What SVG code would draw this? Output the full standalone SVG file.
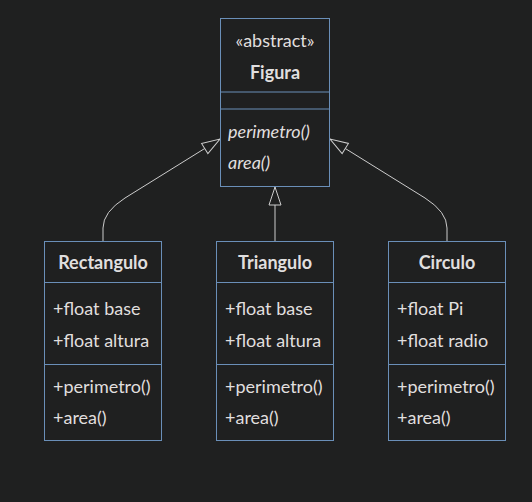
<svg xmlns="http://www.w3.org/2000/svg" width="532" height="502" viewBox="0 0 532 502">
<style>
.bg{fill:#1f2020}
.box{fill:#1f2020;stroke:#6a8fb8;stroke-width:1}
.div{stroke:#6a8fb8;stroke-width:1}
.edge{fill:none;stroke:#cccccc;stroke-width:1}
text{font-family:Lato,"Open Sans","Liberation Sans",sans-serif;font-size:18px;fill:#e0dfdf}
.title{font-weight:bold;text-anchor:middle}
.ster{text-anchor:middle}
.abs{font-style:italic}
</style>
<defs>
<marker id="ext" viewBox="0 0 20 14" refX="19" refY="7" markerWidth="20" markerHeight="14" markerUnits="userSpaceOnUse" orient="auto">
<path d="M1,1 L19,7 L1,13 Z" fill="#1f2020" stroke="#cccccc" stroke-width="1"/>
</marker>
</defs>
<rect class="bg" x="0" y="0" width="532" height="502"/>
<g id="connectors">
<path class="edge" d="M103,241 L103,228 Q103,212 125,198 L220,139" marker-end="url(#ext)"/>
<path class="edge" d="M275,241 L275,187" marker-end="url(#ext)"/>
<path class="edge" d="M447,241 L447,228 Q447,212 425,198 L330,139" marker-end="url(#ext)"/>
</g>
<g id="Figura">
<rect class="box" x="220.5" y="18.5" width="109" height="168"/>
<line class="div" x1="220.5" y1="92" x2="329.5" y2="92"/>
<line class="div" x1="220.5" y1="109" x2="329.5" y2="109"/>
<text class="ster" x="275" y="47">«abstract»</text>
<text class="title" x="275" y="79">Figura</text>
<text class="abs" x="228" y="138">perimetro()</text>
<text class="abs" x="228" y="169">area()</text>
</g>
<g id="Rectangulo">
<rect class="box" x="44.5" y="241.5" width="117" height="199"/>
<line class="div" x1="44.5" y1="282.5" x2="161.5" y2="282.5"/>
<line class="div" x1="44.5" y1="364.5" x2="161.5" y2="364.5"/>
<text class="title" x="103" y="269">Rectangulo</text>
<text x="53" y="315">+float base</text>
<text x="53" y="347">+float altura</text>
<text x="53" y="393">+perimetro()</text>
<text x="53" y="424">+area()</text>
</g>
<g id="Triangulo">
<rect class="box" x="216.5" y="241.5" width="117" height="199"/>
<line class="div" x1="216.5" y1="282.5" x2="333.5" y2="282.5"/>
<line class="div" x1="216.5" y1="364.5" x2="333.5" y2="364.5"/>
<text class="title" x="275" y="269">Triangulo</text>
<text x="225" y="315">+float base</text>
<text x="225" y="347">+float altura</text>
<text x="225" y="393">+perimetro()</text>
<text x="225" y="424">+area()</text>
</g>
<g id="Circulo">
<rect class="box" x="388.5" y="241.5" width="117" height="199"/>
<line class="div" x1="388.5" y1="282.5" x2="505.5" y2="282.5"/>
<line class="div" x1="388.5" y1="364.5" x2="505.5" y2="364.5"/>
<text class="title" x="447" y="269">Circulo</text>
<text x="397" y="315">+float Pi</text>
<text x="397" y="347">+float radio</text>
<text x="397" y="393">+perimetro()</text>
<text x="397" y="424">+area()</text>
</g>
</svg>
